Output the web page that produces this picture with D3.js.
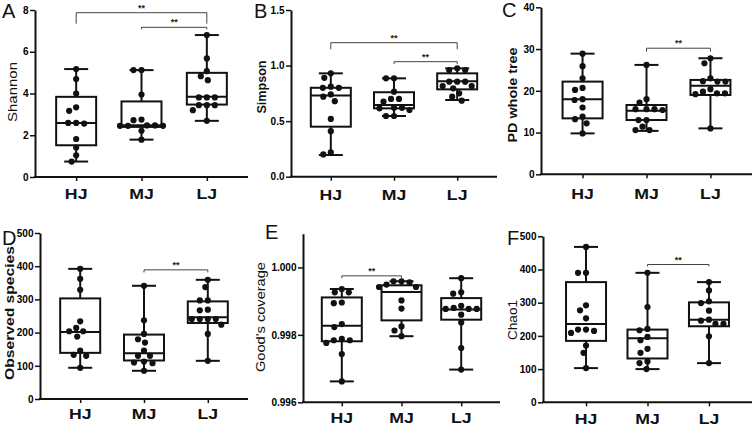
<!DOCTYPE html>
<html><head><meta charset="utf-8">
<script src="https://cdn.jsdelivr.net/npm/d3@7"></script>
<style>body{margin:0;background:#fff} text{font-family:"Liberation Sans",Arial,sans-serif}</style>
</head><body><svg id="c" width="756" height="426"></svg>
<script>
const groups = ["HJ","MJ","LJ"];

// A: Shannon
const shannonTicks = [0,2,4,6,8];
const shannonHJ = [5.17,4.69,4.0,3.34,3.17,2.59,2.59,2.56,1.82,1.41,1.04,0.74];
const shannonMJ = [5.12,5.12,3.95,2.75,2.72,2.47,2.45,2.45,2.45,2.47,2.21,1.79];
const shannonLJ = [6.8,5.68,5.07,4.83,4.64,3.81,3.81,3.81,3.44,3.44,3.44,3.2,2.69];
const shannonBox = [[0.74,1.52,2.59,3.84,5.17],[1.79,2.4,2.48,3.62,5.12],[2.69,3.47,3.84,4.99,6.8]];
const shannonSig = [["HJ","LJ",7.87],["MJ","LJ",7.17]];

// B: Simpson
const simpsonTicks = [0,0.5,1.0,1.5];
const simpsonHJ = [0.93,0.89,0.81,0.80,0.80,0.74,0.72,0.68,0.52,0.41,0.22,0.20];
const simpsonMJ = [0.885,0.885,0.765,0.70,0.70,0.675,0.62,0.615,0.62,0.60,0.546,0.546];
const simpsonLJ = [0.975,0.96,0.96,0.855,0.855,0.855,0.816,0.816,0.795,0.75,0.72,0.684];
const simpsonBox = [[0.195,0.45,0.73,0.80,0.93],[0.546,0.615,0.645,0.76,0.885],[0.69,0.786,0.858,0.93,0.975]];
const simpsonSig = [["HJ","LJ",1.206],["MJ","LJ",1.035]];

// C: PD whole tree
const pdTicks = [0,10,20,30,40];
const pdHJ = [28.9,25.9,23.0,20.7,20.2,18.0,17.8,16.0,13.8,13.2,12.2,9.8];
const pdMJ = [26.2,18.0,17.2,15.6,15.6,15.4,15.6,13.0,13.0,11.4,10.6,10.6];
const pdLJ = [27.8,26.6,23.0,22.3,22.2,22.2,20.4,19.8,19.4,19.2,19.4,11.0];
const pdBox = [[9.8,13.4,18.0,22.2,28.9],[10.4,13.0,15.2,16.6,26.2],[11.0,19.0,21.2,22.6,27.8]];
const pdSig = [["MJ","LJ",30.2]];

// D: Observed species
const obsTicks = [0,100,200,300,400,500];
const obsHJ = [392,362,329,234,214,204,204,188,146,133,130,94];
const obsMJ = [341,237,196,180,170,146,130,130,113,108,110,85];
const obsLJ = [359,337,297,297,269,267,241,241,241,241,224,196,115];
const obsBox = [[94,139,202,303,392],[85,116,138,194,341],[115,229,246,294,359]];
const obsSig = [["MJ","LJ",389]];

// E: Good's coverage
const goodTicks = [0.996,0.998,1.000];
const goodHJ = [0.99936,0.99926,0.99926,0.99896,0.99894,0.99832,0.99823,0.99788,0.99784,0.99784,0.99776,0.99743,0.99662];
const goodMJ = [0.99959,0.99959,0.99956,0.99949,0.99942,0.99942,0.99902,0.99878,0.99825,0.99813,0.99796];
const goodLJ = [0.99968,0.99926,0.99922,0.99886,0.9988,0.99877,0.99877,0.99877,0.9986,0.99837,0.99761,0.99697];
const goodBox = [[0.99662,0.99781,0.99827,0.99911,0.99936],[0.99796,0.99843,0.99927,0.99947,0.99959],[0.99697,0.99845,0.99875,0.99909,0.99968]];
const goodSig = [["HJ","MJ",0.99975]];

// F: Chao1
const chaoTicks = [0,100,200,300,400,500];
const chaoHJ = [468,390,390,292,277,253,219,215,219,209,171,149,103];
const chaoMJ = [390,287,217,221,187,197,161,149,123,118,100];
const chaoLJ = [362,337,299,304,276,236,236,249,246,199,118];
const chaoBox = [[103,185,236,362,468],[100,132,193,219,390],[118,229,249,301,362]];
const chaoSig = [["MJ","LJ",415]];

const panels = [
  {letter:"A", lx:2, ly:18, label:"Shannon", lw:"normal", labX:12, labY:92, labFs:13, labLen:60,
   ticks:shannonTicks, dom:[0,8], fmt:d3.format("d"), pts:[shannonHJ,shannonMJ,shannonLJ], box:shannonBox, sig:shannonSig, legs:[11,2],
   x0:35, x1:248, yT:10, yB:177, pad:0.63, catY:199},
  {letter:"B", lx:254, ly:18, label:"Simpson", lw:"bold", labX:262, labY:87, labFs:12, labLen:53,
   ticks:simpsonTicks, dom:[0,1.5], fmt:d3.format(".1f"), pts:[simpsonHJ,simpsonMJ,simpsonLJ], box:simpsonBox, sig:simpsonSig, legs:[6.6,2.3],
   x0:291, x1:497, yT:10, yB:176.7, pad:0.63, catY:200},
  {letter:"C", lx:502, ly:17, label:"PD whole tree", lw:"bold", labX:512, labY:95, labFs:13, labLen:95,
   ticks:pdTicks, dom:[0,40], fmt:d3.format("d"), pts:[pdHJ,pdMJ,pdLJ], box:pdBox, sig:pdSig, legs:[3.4],
   x0:541, x1:752, yT:7.3, yB:174.3, pad:0.65, catY:199},
  {letter:"D", lx:2, ly:245, label:"Observed species", lw:"bold", labX:9, labY:313, labFs:13, labLen:134,
   ticks:obsTicks, dom:[0,500], fmt:d3.format("d"), pts:[obsHJ,obsMJ,obsLJ], box:obsBox, sig:obsSig, legs:[2.6],
   x0:40, x1:248, yT:233, yB:399, pad:0.63, catY:419},
  {letter:"E", lx:265, ly:239, label:"Good's coverage", lw:"normal", labX:260, labY:317, labFs:13, labLen:110,
   ticks:goodTicks, dom:[0.996,1.001], fmt:d3.format(".3f"), pts:[goodHJ,goodMJ,goodLJ], box:goodBox, sig:goodSig, legs:[2.4],
   x0:303, x1:500, yT:233.7, yB:402.3, pad:0.65, catY:423},
  {letter:"F", lx:507, ly:245, label:"Chao1", lw:"normal", labX:512, labY:320, labFs:13, labLen:40,
   ticks:chaoTicks, dom:[0,500], fmt:d3.format("d"), pts:[chaoHJ,chaoMJ,chaoLJ], box:chaoBox, sig:chaoSig, legs:[1.8],
   x0:543, x1:752, yT:236.3, yB:402.3, pad:0.7, catY:424}
];

const svg = d3.select("#c");
const R = 3.1, BOXW = 40, CAPW = 24;

function swarm(vals, y, r) {
  const placed = [];
  const order = vals.map((v,i)=>({v, i, py:y(v)})).sort((a,b)=>a.py-b.py);
  order.forEach(p => {
    let off = 0;
    for (let k = 0; k < 200; k++) {
      const cand = (k % 2 === 0 ? 1 : -1) * Math.ceil(k/2) * 0.5;
      const ok = placed.every(q => (q.dx-cand)**2 + (q.py-p.py)**2 >= (2*r+1.5)**2);
      if (ok) { off = cand; break; }
    }
    p.dx = off; placed.push(p);
  });
  return placed;
}

panels.forEach(P => {
  const g = svg.append("g");
  const x = d3.scalePoint().domain(groups).range([P.x0, P.x1]).padding(P.pad);
  const y = d3.scaleLinear().domain(P.dom).range([P.yB, P.yT]);

  // y axis
  const ya = g.append("g").attr("transform", `translate(${P.x0},0)`)
    .call(d3.axisLeft(y).tickValues(P.ticks).tickFormat(P.fmt).tickSize(5).tickPadding(1.5).tickSizeOuter(0));
  ya.attr("font-family", null).attr("font-size", null);
  ya.select(".domain").attr("stroke-width", 2).attr("stroke","#111");
  ya.selectAll(".tick line").attr("stroke-width", 1.5).attr("stroke","#111");
  ya.selectAll(".tick text")
    .style("font-size", "10px").style("font-weight","bold").style("fill","#000");
  // x axis
  const xa = g.append("g").attr("transform", `translate(0,${P.yB})`)
    .call(d3.axisBottom(x).tickSize(4).tickSizeOuter(0).tickFormat(""));
  xa.select(".domain").attr("stroke-width", 2).attr("stroke","#111").attr("d", `M${P.x0-1},0H${P.x1}`);
  xa.selectAll(".tick line").attr("stroke-width", 1.5).attr("stroke","#111");

  // category labels
  g.selectAll(".cat").data(groups).join("text")
    .attr("transform", d => `translate(${x(d)},${P.catY}) scale(1.18,1)`).attr("text-anchor","middle")
    .attr("font-size", 15).attr("font-weight","bold").attr("fill","#111").text(d => d);

  // y label
  g.append("text").attr("transform", `translate(${P.labX},${P.labY}) rotate(-90)`)
    .attr("text-anchor","middle").attr("dominant-baseline","central")
    .attr("textLength", P.labLen).attr("lengthAdjust","spacingAndGlyphs")
    .attr("font-size", P.labFs).attr("font-weight", P.lw).attr("fill","#111").text(P.label);

  // panel letter
  g.append("text").attr("x", P.lx).attr("y", P.ly)
    .attr("font-family",'"Liberation Serif","Times New Roman",serif').attr("font-size", 20).attr("fill","#111").text(P.letter);

  // boxes
  groups.forEach((grp, i) => {
    const [mn,q1,md,q3,mx] = P.box[i];
    const cx = x(grp);
    const bg = g.append("g").attr("stroke","#111").attr("stroke-width",2).attr("fill","none");
    bg.append("line").attr("x1",cx).attr("x2",cx).attr("y1",y(mx)).attr("y2",y(q3));
    bg.append("line").attr("x1",cx).attr("x2",cx).attr("y1",y(q1)).attr("y2",y(mn));
    bg.append("line").attr("x1",cx-CAPW/2).attr("x2",cx+CAPW/2).attr("y1",y(mx)).attr("y2",y(mx));
    bg.append("line").attr("x1",cx-CAPW/2).attr("x2",cx+CAPW/2).attr("y1",y(mn)).attr("y2",y(mn));
    bg.append("rect").attr("x",cx-BOXW/2).attr("width",BOXW).attr("y",y(q3)).attr("height",y(q1)-y(q3)).attr("fill","#fff");
    bg.append("line").attr("x1",cx-BOXW/2).attr("x2",cx+BOXW/2).attr("y1",y(md)).attr("y2",y(md));
    const sw = swarm(P.pts[i], y, R);
    g.selectAll(null).data(sw).join("circle")
      .attr("cx", d => cx + d.dx).attr("cy", d => d.py).attr("r", R).attr("fill","#111");
  });

  // significance brackets
  P.sig.forEach((s, k) => {
    const xa1 = x(s[0]), xb = x(s[1]), yy = y(s[2]), leg = P.legs[k];
    g.append("path").attr("d", `M${xa1},${yy+leg}V${yy}H${xb}V${yy+leg}`)
      .attr("fill","none").attr("stroke","#444").attr("stroke-width",1);
    g.append("text").attr("x", (xa1+xb)/2).attr("y", yy-2).attr("text-anchor","middle")
      .attr("font-size", 9).attr("font-weight","bold").attr("fill","#222").text("**");
  });
});
</script></body></html>
